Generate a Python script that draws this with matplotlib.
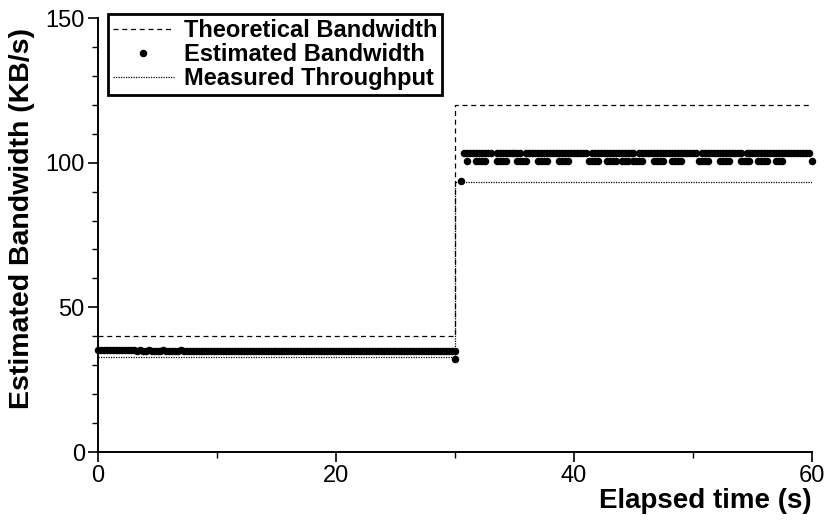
import numpy as np
import matplotlib
matplotlib.use('Agg')
import matplotlib.pyplot as plt
from matplotlib.ticker import MultipleLocator

nan = np.nan

# theoretical and measured curves, step shaped (value holds until next time)
theo_time = [0, 30, 60]
theo_bw = [40.0, 120.0, 120.0]
meas_time = [0, 30, 60]
meas_bw = [32.8, 93.4, 93.4]

# estimated bandwidth, first half (every 0.25 s)
est_t1 = np.arange(0, 30.01, 0.25)
est_bw1 = [35.3, 35.3, 35.3, 35.2, 35.3, 35.2, 35.2, 35.1, 35.2, 35.1,
           35.1, 35.2, 35.1, 35.0, 35.1, 35.0, 35.0, 35.1, 35.0, 35.0,
           35.0, 35.0, 35.1, 35.0, 35.0, 35.0, 35.0, 35.0, 35.1, 35.0,
           35.0, 35.0, 35.0, 35.0, 35.0, 35.0, 35.0, 35.0, 35.0, 35.0,
           35.0, 35.0, 35.0, 35.0, 35.0, 35.0, 35.0, 35.0, 35.0, 35.0,
           35.0, 35.0, 35.0, 35.0, 35.0, 35.0, 35.0, 35.0, 35.0, 35.0,
           35.0, 34.9, 35.0, 34.9, 35.0, 34.9, 34.9, 35.0, 34.9, 34.9,
           34.9, 34.9, 34.9, 34.9, 34.9, 34.9, 34.9, 34.9, 34.9, 34.9,
           34.9, 34.9, 34.9, 34.9, 34.9, 34.8, 34.9, 34.8, 34.8, 34.9,
           34.8, 34.8, 34.8, 34.8, 34.8, 34.8, 34.8, 34.8, 34.8, 34.8,
           34.8, 34.8, 34.8, 34.8, 34.8, 34.8, 34.8, 34.8, 34.8, 34.8,
           34.8, 34.8, 34.8, 34.8, 34.8, 34.8, 34.8, 34.8, 34.8, 34.8,
           35.0]

# the two points right at the switch
est_t_edge = [30.0, 30.5]
est_bw_edge = [32.0, 93.5]

# second half (every 0.25 s), estimates jump between two levels
est_t2 = np.arange(30.75, 60.01, 0.25)
est_hi = [103.4, 103.4, 103.4, 103.4, 103.4, 103.4, 103.4, 103.4, 103.4, 103.4,
          nan, 103.4, 103.4, 103.4, 103.4, 103.4, 103.4, 103.4, 103.4, 103.4,
          nan, 103.4, 103.4, 103.4, 103.4, 103.4, 103.4, 103.4, 103.4, 103.4,
          103.4, 103.4, 103.4, 103.4, 103.4, 103.4, 103.4, 103.4, 103.4, 103.4,
          103.4, 103.4, nan, 103.4, 103.4, 103.4, 103.4, 103.4, 103.4, 103.4,
          103.4, 103.4, 103.4, 103.4, 103.4, 103.4, 103.4, 103.4, nan, 103.4,
          103.4, 103.4, 103.4, 103.4, 103.4, 103.4, 103.4, 103.4, 103.4, 103.4,
          103.4, 103.4, 103.4, 103.4, 103.4, 103.4, 103.4, 103.4, 103.4, nan,
          103.4, 103.4, 103.4, 103.4, 103.4, 103.4, 103.4, 103.4, 103.4, 103.4,
          103.4, 103.4, 103.4, 103.4, nan, 103.4, 103.4, 103.4, 103.4, 103.4,
          103.4, 103.4, 103.4, 103.4, 103.4, 103.4, 103.4, 103.4, 103.4, 103.4,
          103.4, 103.4, 103.4, 103.4, 103.4, 103.4, 103.4, nan]
est_lo = [nan, 100.5, nan, nan, 100.5, 100.5, 100.5, 100.5, nan, nan,
          nan, 100.5, 100.5, 100.5, 100.5, nan, nan, nan, 100.5, 100.5,
          100.5, 100.5, nan, nan, nan, 100.5, 100.5, 100.5, 100.5, nan,
          nan, nan, 100.5, 100.5, 100.5, 100.5, nan, nan, nan, nan,
          nan, nan, 100.5, 100.5, 100.5, 100.5, nan, nan, 100.5, 100.5,
          100.5, 100.5, nan, 100.5, 100.5, 100.5, nan, 100.5, 100.5, 100.5,
          100.5, nan, nan, nan, 100.5, 100.5, 100.5, 100.5, nan, nan,
          100.5, 100.5, 100.5, 100.5, nan, nan, nan, nan, nan, 100.5,
          100.5, 100.5, 100.5, nan, nan, nan, 100.5, 100.5, 100.5, 100.5,
          nan, nan, nan, 100.5, 100.5, 100.5, 100.5, nan, nan, 100.5,
          100.5, 100.5, 100.5, nan, nan, 100.5, 100.5, 100.5, nan, nan,
          nan, nan, nan, nan, nan, nan, nan, 100.5]

plt.rcParams['font.family'] = ['Liberation Sans', 'DejaVu Sans']

fig = plt.figure(figsize=(8.25, 5.25), dpi=100)
ax = fig.add_axes([0.1188, 0.139, 0.8654, 0.8267])

dot = dict(color='k', marker='o', ms=4.4, ls='none', clip_on=False)

ax.plot(theo_time, theo_bw, color='k', lw=0.9, ls=(0, (4, 3)),
        drawstyle='steps-post', label='Theoretical Bandwidth')
ax.plot(est_t1, est_bw1, label='Estimated Bandwidth', **dot)
ax.plot(est_t_edge, est_bw_edge, **dot)
ax.plot(est_t2, est_hi, **dot)
ax.plot(est_t2, est_lo, **dot)
ax.plot(meas_time, meas_bw, color='k', lw=0.9, ls=(0, (1, 1)),
        drawstyle='steps-post', label='Measured Throughput')

ax.set_xlim(0, 60)
ax.set_ylim(0, 150)
ax.spines['top'].set_visible(False)
ax.spines['right'].set_visible(False)
ax.spines['left'].set_linewidth(1.4)
ax.spines['bottom'].set_linewidth(1.4)

ax.xaxis.set_major_locator(MultipleLocator(20))
ax.xaxis.set_minor_locator(MultipleLocator(10))
ax.yaxis.set_major_locator(MultipleLocator(50))
ax.yaxis.set_minor_locator(MultipleLocator(10))
ax.tick_params(which='major', direction='out', length=7.5, width=1.2,
               labelsize=17, pad=2)
ax.tick_params(which='minor', direction='out', length=4, width=1.0)

ax.set_xlabel('Elapsed time (s)', fontsize=20, fontweight='bold', loc='right')
ax.xaxis.set_label_coords(1.0, -0.084)
ax.set_ylabel('Estimated Bandwidth (KB/s)', fontsize=20.5, fontweight='bold')
ax.yaxis.set_label_coords(-0.088, 0.537)

leg = ax.legend(loc='upper left', bbox_to_anchor=(0.131, 0.973),
                bbox_transform=fig.transFigure, borderaxespad=0,
                prop={'size': 17, 'weight': 'bold'}, frameon=True,
                fancybox=False, framealpha=1, edgecolor='k',
                borderpad=0.2, labelspacing=0.05, handlelength=2.6,
                handletextpad=0.4)
leg.get_frame().set_linewidth(2)

fig.savefig('out.png', dpi=100)
